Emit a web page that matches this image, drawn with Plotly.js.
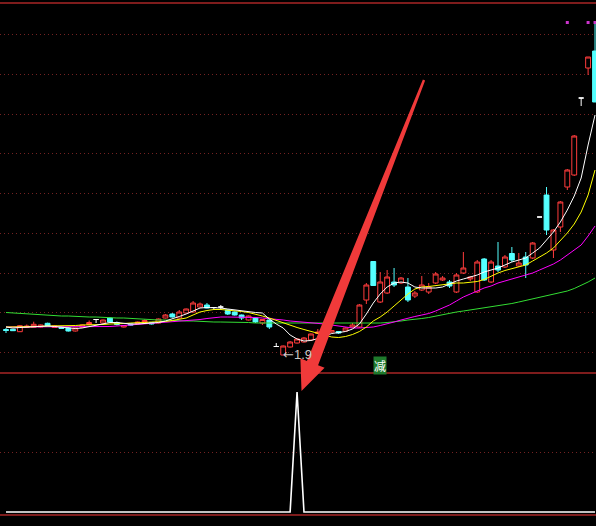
<!DOCTYPE html>
<html>
<head>
<meta charset="utf-8">
<script src="https://cdn.plot.ly/plotly-3.0.1.min.js"></script>
<style>
html,body{margin:0;padding:0;background:#000;overflow:hidden}
#chart{width:596px;height:526px}
</style>
</head>
<body>
<div id="chart"></div>
<script>
// Daily K-line: open / high / low / close per bar
const open = [
  2.155, 2.157, 2.133, 2.175, 2.177, 2.18, 2.217, 2.175, 2.18, 2.17,
  2.14, 2.177, 2.205, 2.255, 2.22, 2.27, 2.225, 2.18, 2.21, 2.215,
  2.223, 2.225, 2.22, 2.27, 2.31, 2.27, 2.32, 2.33, 2.38, 2.40,
  2.375, 2.38, 2.35, 2.33, 2.30, 2.25, 2.27, 2.22, 2.25, 1.985,
  1.90, 1.98, 2.02, 2.03, 2.05, 2.115, 2.12, 2.13, 2.135, 2.14,
  2.18, 2.18, 2.45, 2.835, 2.43, 2.52, 2.63, 2.62, 2.58, 2.49,
  2.55, 2.53, 2.62, 2.65, 2.63, 2.53, 2.72, 2.66, 2.53, 2.86,
  2.63, 2.79, 2.78, 2.915, 2.79, 2.88, 2.87, 3.28, 3.50, 2.95,
  3.18, 3.58, 3.70, 4.47, 4.77, 4.94
];
const high = [
  2.17, 2.16, 2.20, 2.205, 2.233, 2.205, 2.223, 2.195, 2.185, 2.175,
  2.175, 2.205, 2.245, 2.255, 2.255, 2.28, 2.235, 2.20, 2.215, 2.235,
  2.255, 2.23, 2.265, 2.31, 2.32, 2.35, 2.365, 2.44, 2.425, 2.42,
  2.38, 2.40, 2.355, 2.335, 2.305, 2.295, 2.275, 2.26, 2.255, 2.02,
  1.995, 2.04, 2.065, 2.08, 2.115, 2.16, 2.15, 2.15, 2.14, 2.175,
  2.22, 2.41, 2.62, 2.835, 2.73, 2.75, 2.77, 2.68, 2.67, 2.54,
  2.69, 2.62, 2.73, 2.69, 2.65, 2.72, 2.93, 2.69, 2.85, 2.87,
  2.85, 3.03, 2.90, 2.98, 2.92, 2.93, 3.03, 3.28, 3.58, 3.16,
  3.44, 3.76, 4.10, 4.47, 4.88, 5.22
];
const low = [
  2.12, 2.14, 2.13, 2.17, 2.175, 2.175, 2.18, 2.17, 2.16, 2.135,
  2.135, 2.175, 2.195, 2.22, 2.215, 2.225, 2.195, 2.175, 2.195, 2.21,
  2.22, 2.205, 2.215, 2.265, 2.275, 2.265, 2.315, 2.325, 2.375, 2.365,
  2.35, 2.35, 2.30, 2.295, 2.25, 2.245, 2.22, 2.20, 2.16, 1.985,
  1.90, 1.975, 2.015, 2.025, 2.045, 2.11, 2.11, 2.12, 2.11, 2.135,
  2.175, 2.17, 2.41, 2.595, 2.42, 2.51, 2.58, 2.61, 2.43, 2.47,
  2.54, 2.51, 2.61, 2.64, 2.57, 2.52, 2.71, 2.64, 2.52, 2.64,
  2.62, 2.73, 2.77, 2.83, 2.78, 2.67, 2.86, 3.28, 3.10, 2.87,
  3.13, 3.55, 3.69, 4.39, 4.70, 4.43
];
const close = [
  2.145, 2.143, 2.193, 2.19, 2.207, 2.20, 2.19, 2.19, 2.165, 2.14,
  2.17, 2.20, 2.225, 2.255, 2.25, 2.23, 2.205, 2.195, 2.20, 2.23,
  2.245, 2.21, 2.26, 2.30, 2.28, 2.33, 2.36, 2.42, 2.41, 2.37,
  2.375, 2.38, 2.31, 2.30, 2.27, 2.29, 2.23, 2.255, 2.18, 1.985,
  1.99, 2.03, 2.06, 2.07, 2.11, 2.13, 2.14, 2.145, 2.12, 2.17,
  2.20, 2.40, 2.60, 2.595, 2.63, 2.68, 2.60, 2.67, 2.45, 2.52,
  2.60, 2.58, 2.71, 2.67, 2.59, 2.70, 2.77, 2.68, 2.83, 2.65,
  2.83, 2.75, 2.88, 2.85, 2.82, 2.80, 3.02, 3.28, 3.15, 3.15,
  3.43, 3.75, 4.09, 4.47, 4.88, 4.43
];

// Moving averages (white MA5, yellow MA10, magenta MA20, green MA60)
const ma5 = [
  2.18, 2.17, 2.175, 2.18, 2.185, 2.19, 2.19, 2.185, 2.18, 2.17,
  2.165, 2.17, 2.185, 2.20, 2.215, 2.225, 2.225, 2.215, 2.21, 2.21,
  2.215, 2.22, 2.225, 2.24, 2.26, 2.285, 2.31, 2.34, 2.37, 2.375,
  2.375, 2.37, 2.36, 2.35, 2.34, 2.33, 2.325, 2.32, 2.26, 2.21,
  2.17, 2.10, 2.06, 2.04, 2.045, 2.065, 2.09, 2.115, 2.125, 2.135,
  2.16, 2.21, 2.31, 2.42, 2.51, 2.58, 2.62, 2.63, 2.62, 2.58,
  2.57, 2.57, 2.57, 2.58, 2.61, 2.64, 2.66, 2.68, 2.70, 2.73,
  2.75, 2.77, 2.80, 2.83, 2.85, 2.87, 2.92, 2.97, 3.05, 3.13,
  3.23, 3.35, 3.49, 3.67, 4.00, 4.30
];
const ma10 = [
  2.18, 2.18, 2.18, 2.18, 2.185, 2.185, 2.19, 2.19, 2.19, 2.195,
  2.195, 2.20, 2.20, 2.20, 2.205, 2.21, 2.21, 2.215, 2.22, 2.22,
  2.225, 2.23, 2.23, 2.235, 2.245, 2.255, 2.27, 2.30, 2.33, 2.345,
  2.355, 2.355, 2.35, 2.345, 2.335, 2.325, 2.31, 2.29, 2.27, 2.245,
  2.225, 2.20, 2.175, 2.155, 2.135, 2.115, 2.095, 2.08, 2.075, 2.085,
  2.105, 2.135, 2.18, 2.24, 2.28, 2.33, 2.39, 2.45, 2.51, 2.56,
  2.58, 2.585, 2.595, 2.605, 2.615, 2.62, 2.62, 2.625, 2.635, 2.655,
  2.69, 2.72, 2.745, 2.765, 2.78, 2.80, 2.84, 2.88, 2.92, 2.97,
  3.04, 3.12, 3.21, 3.33, 3.50, 3.75
];
const ma20 = [
  2.18, 2.18, 2.18, 2.18, 2.18, 2.18, 2.18, 2.18, 2.18, 2.18,
  2.18, 2.18, 2.18, 2.18, 2.18, 2.185, 2.19, 2.195, 2.20, 2.205,
  2.21, 2.215, 2.22, 2.225, 2.23, 2.235, 2.245, 2.25, 2.255, 2.265,
  2.275, 2.28, 2.28, 2.28, 2.28, 2.28, 2.275, 2.27, 2.265, 2.255,
  2.25, 2.24, 2.235, 2.23, 2.225, 2.22, 2.21, 2.20, 2.19, 2.18,
  2.17, 2.17, 2.175, 2.18, 2.195, 2.21, 2.23, 2.25, 2.27, 2.285,
  2.30, 2.315, 2.34, 2.37, 2.40, 2.44, 2.48, 2.51, 2.54, 2.57,
  2.59, 2.62, 2.64, 2.66, 2.68, 2.70, 2.72, 2.75, 2.78, 2.81,
  2.85, 2.90, 2.95, 3.00, 3.09, 3.19
];
const ma60 = [
  2.325, 2.32, 2.315, 2.31, 2.305, 2.30, 2.30, 2.295, 2.29, 2.29,
  2.285, 2.285, 2.28, 2.28, 2.275, 2.275, 2.27, 2.27, 2.265, 2.26,
  2.26, 2.255, 2.25, 2.25, 2.245, 2.245, 2.24, 2.24, 2.235, 2.235,
  2.23, 2.23, 2.23, 2.225, 2.225, 2.225, 2.22, 2.22, 2.22, 2.22,
  2.22, 2.22, 2.22, 2.22, 2.215, 2.215, 2.215, 2.215, 2.215, 2.215,
  2.215, 2.215, 2.215, 2.22, 2.22, 2.225, 2.23, 2.24, 2.25, 2.255,
  2.265, 2.275, 2.29, 2.305, 2.32, 2.33, 2.34, 2.35, 2.36, 2.37,
  2.38, 2.395, 2.405, 2.415, 2.43, 2.445, 2.46, 2.475, 2.49, 2.505,
  2.52, 2.54, 2.565, 2.595, 2.63, 2.67
];

// Marker dots along the top edge
const dotBars = [81, 84, 85];
const dotVals = [5.225, 5.225, 5.225];

// Lower panel signal line
const signal = [
  0, 0, 0, 0, 0, 0, 0, 0, 0, 0,
  0, 0, 0, 0, 0, 0, 0, 0, 0, 0,
  0, 0, 0, 0, 0, 0, 0, 0, 0, 0,
  0, 0, 0, 0, 0, 0, 0, 0, 0, 0,
  0, 0, 100, 0, 0, 0, 0, 0, 0, 0,
  0, 0, 0, 0, 0, 0, 0, 0, 0, 0,
  0, 0, 0, 0, 0, 0, 0, 0, 0, 0,
  0, 0, 0, 0, 0, 0, 0, 0, 0, 0,
  0, 0, 0, 0, 0, 0
];

// Bars that carry the "减" tag
const reduceBars = [54];
const reduceText = '减';

const bars = open.map((_, i) => i);

// split regular candles from flat (open == close) ones, which are drawn white
const regIdx = bars.filter(i => open[i] !== close[i]);
const flatIdx = bars.filter(i => open[i] === close[i]);
const pick = (arr, idx) => idx.map(i => arr[i]);

const RED = '#ff3c3c';
const CYAN = '#54ffff';

const traces = [
  {
    type: 'candlestick',
    x: regIdx, open: pick(open, regIdx), high: pick(high, regIdx),
    low: pick(low, regIdx), close: pick(close, regIdx),
    increasing: {line: {color: RED, width: 1}, fillcolor: '#000000'},
    decreasing: {line: {color: CYAN, width: 1}, fillcolor: CYAN},
    hoverinfo: 'skip', xaxis: 'x', yaxis: 'y'
  },
  {
    type: 'candlestick',
    x: flatIdx, open: pick(open, flatIdx), high: pick(high, flatIdx),
    low: pick(low, flatIdx), close: pick(close, flatIdx),
    increasing: {line: {color: '#ffffff', width: 1}, fillcolor: '#ffffff'},
    decreasing: {line: {color: '#ffffff', width: 1}, fillcolor: '#ffffff'},
    hoverinfo: 'skip', xaxis: 'x', yaxis: 'y'
  },
  {type: 'scatter', mode: 'lines', x: bars, y: ma60, line: {color: '#33dd33', width: 1}, hoverinfo: 'skip', yaxis: 'y'},
  {type: 'scatter', mode: 'lines', x: bars, y: ma20, line: {color: '#ff00ff', width: 1}, hoverinfo: 'skip', yaxis: 'y'},
  {type: 'scatter', mode: 'lines', x: bars, y: ma10, line: {color: '#ffff00', width: 1}, hoverinfo: 'skip', yaxis: 'y'},
  {type: 'scatter', mode: 'lines', x: bars, y: ma5, line: {color: '#ffffff', width: 1}, hoverinfo: 'skip', yaxis: 'y'},
  {type: 'scatter', mode: 'markers', x: dotBars, y: dotVals,
   marker: {color: '#cc33cc', size: 3, symbol: 'square'}, hoverinfo: 'skip', yaxis: 'y'},
  {type: 'scatter', mode: 'lines', x: bars, y: signal,
   line: {color: '#ffffff', width: 1.6}, hoverinfo: 'skip', xaxis: 'x', yaxis: 'y2'}
];

// canvas geometry helpers (pixel -> paper)
const W = 596, H = 526;
const px = v => v / W;
const py = v => 1 - v / H;

// big red pointer arrow
function arrowPath(tail, tip, w0, w1, headLen, headHalf) {
  const dx = tip[0] - tail[0], dy = tip[1] - tail[1];
  const len = Math.hypot(dx, dy);
  const ux = dx / len, uy = dy / len;
  const nx = -uy, ny = ux;
  const bx = tip[0] - headLen * ux, by = tip[1] - headLen * uy;
  const pts = [
    [tail[0] - w0 * nx, tail[1] - w0 * ny],
    [tail[0] + w0 * nx, tail[1] + w0 * ny],
    [bx + w1 * nx, by + w1 * ny],
    [bx + headHalf * nx, by + headHalf * ny],
    [tip[0], tip[1]],
    [bx - headHalf * nx, by - headHalf * ny],
    [bx - w1 * nx, by - w1 * ny]
  ];
  return 'M' + pts.map(p => px(p[0]).toFixed(5) + ',' + py(p[1]).toFixed(5)).join(' L') + ' Z';
}

const frameColor = '#a82626';
const hline = (y, w) => ({type: 'line', xref: 'paper', yref: 'paper', x0: 0, x1: 1,
  y0: py(y), y1: py(y), line: {color: frameColor, width: w}, layer: 'above'});

const lowVal = Math.min(...low);
const lowBar = low.indexOf(lowVal);

const layout = {
  width: W, height: H,
  margin: {l: 0, r: 0, t: 0, b: 0, pad: 0},
  paper_bgcolor: '#000000', plot_bgcolor: '#000000',
  showlegend: false,
  boxgap: 0.3, boxgroupgap: 0,
  xaxis: {range: [-0.866, 85.14], showgrid: false, zeroline: false, showticklabels: false,
          ticks: '', showline: false, rangeslider: {visible: false}, fixedrange: true},
  yaxis: {domain: [py(373), py(3)], range: [1.72, 5.42], tick0: 1.923, dtick: 0.3975,
          showgrid: true, gridcolor: '#742222', griddash: '1px,3px', gridwidth: 1,
          zeroline: false, showticklabels: false, ticks: '', showline: false, fixedrange: true},
  yaxis2: {domain: [py(515), py(373)], range: [-2.5, 115.83], tickvals: [50],
           showgrid: true, gridcolor: '#742222', griddash: '1px,3px', gridwidth: 1,
           zeroline: false, showticklabels: false, ticks: '', showline: false, fixedrange: true},
  shapes: [
    hline(3, 1.6), hline(373, 1.4), hline(515, 1.4),
    {type: 'path', xref: 'paper', yref: 'paper', layer: 'above',
     path: arrowPath([424, 80], [301.5, 391], 1.2, 6, 30, 13),
     fillcolor: '#f03a3a', line: {width: 0}}
  ],
  annotations: [
    {x: lowBar, y: lowVal, xref: 'x', yref: 'y', xanchor: 'left', yanchor: 'middle',
     xshift: -2, yshift: 1, showarrow: false,
     text: '<span style="font-family:DejaVu Sans">←</span>' + (Math.round(lowVal * 10) / 10),
     font: {family: 'Liberation Sans, Arial, sans-serif', size: 13, color: '#c8c8c8'}}
  ].concat(reduceBars.map(b => ({
     x: b, y: py(365.5), xref: 'x', yref: 'paper', xanchor: 'center', yanchor: 'middle',
     showarrow: false, text: reduceText, bgcolor: '#1f7a2c', borderpad: 0,
     font: {family: 'Noto Sans CJK SC, sans-serif', size: 12, color: '#ffffff'}
  })))
};

Plotly.newPlot('chart', traces, layout, {displayModeBar: false, staticPlot: true});
</script>
</body>
</html>
